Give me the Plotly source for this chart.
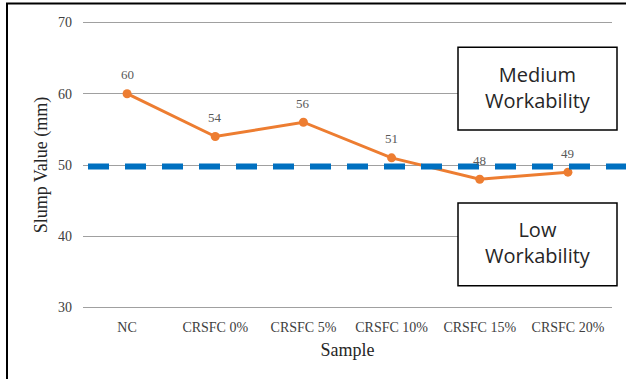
import plotly.graph_objects as go

categories = ["NC", "CRSFC 0%", "CRSFC 5%", "CRSFC 10%", "CRSFC 15%", "CRSFC 20%"]
slump = [60, 54, 56, 51, 48, 49]
threshold = 49.8
y_ticks = [30, 40, 50, 60, 70]

W, H = 626, 379
pad = 0.2
ppu = 286 / 40.0
L, R = 83, 14
T, B = 22 - pad * ppu, 71 - pad * ppu
pw, ph = W - L - R, H - T - B

def px_x(x):
    return (x - L) / pw

def px_y(y):
    return 1 - (y - T) / ph

fig = go.Figure()
fig.add_trace(go.Scatter(
    x=categories, y=slump, mode="lines+markers",
    line=dict(color="#ED7D31", width=3),
    marker=dict(color="#ED7D31", size=9),
    cliponaxis=False, showlegend=False, hoverinfo="skip",
))

shapes = [
    dict(type="line", xref="paper", yref="y", x0=px_x(88), x1=px_x(640), y0=threshold, y1=threshold,
         line=dict(color="#0070C0", width=6, dash="21px,16px"), layer="above"),
    dict(type="rect", xref="paper", yref="paper", x0=px_x(458), x1=px_x(617), y0=px_y(130), y1=px_y(47),
         line=dict(color="black", width=1.5), fillcolor="white", layer="above"),
    dict(type="rect", xref="paper", yref="paper", x0=px_x(458), x1=px_x(617), y0=px_y(286), y1=px_y(203),
         line=dict(color="black", width=1.5), fillcolor="white", layer="above"),
    dict(type="rect", xref="paper", yref="paper", x0=px_x(7), x1=px_x(640), y0=px_y(400), y1=px_y(3),
         line=dict(color="black", width=2), fillcolor="rgba(0,0,0,0)", layer="above"),
]

box_font = dict(family="Open Sans", size=20, color="#262626")
annotations = [
    dict(xref="paper", yref="paper", x=px_x(537.5), y=px_y(87), text="Medium<br>Workability",
         xanchor="center", yanchor="middle", showarrow=False, font=box_font),
    dict(xref="paper", yref="paper", x=px_x(537.5), y=px_y(243), text="Low<br>Workability",
         xanchor="center", yanchor="middle", showarrow=False, font=box_font),
]
for c, v in zip(categories, slump):
    annotations.append(dict(xref="x", yref="y", x=c, y=v, text=str(v), showarrow=False,
                            xanchor="center", yanchor="middle", yshift=19,
                            font=dict(family="Liberation Serif", size=13, color="#595959")))

fig.update_layout(
    width=W, height=H,
    margin=dict(l=L, r=R, t=T, b=B, autoexpand=False),
    paper_bgcolor="white", plot_bgcolor="white",
    shapes=shapes, annotations=annotations,
    xaxis=dict(type="category", range=[-0.5, 5.5], showgrid=False, showline=False, zeroline=False,
               ticks="", ticklabelstandoff=8, automargin=False,
               tickfont=dict(family="Liberation Serif", size=14, color="#404040"),
               title=dict(text="Sample", font=dict(family="Liberation Serif", size=18, color="#262626"),
                          standoff=9)),
    yaxis=dict(range=[30 - pad, 70 + pad], tickvals=y_ticks, showgrid=True, gridcolor="#A0A0A0", gridwidth=1.4,
               showline=False, zeroline=False, ticks="", ticklabelstandoff=10, automargin=False,
               tickfont=dict(family="Liberation Serif", size=14, color="#404040"),
               title=dict(text="Slump Value (mm)", font=dict(family="Liberation Serif", size=18, color="#262626"),
                          standoff=5)),
)

fig.write_html("out.html", config={"displayModeBar": False},
               post_script="document.body.style.margin='0';")
